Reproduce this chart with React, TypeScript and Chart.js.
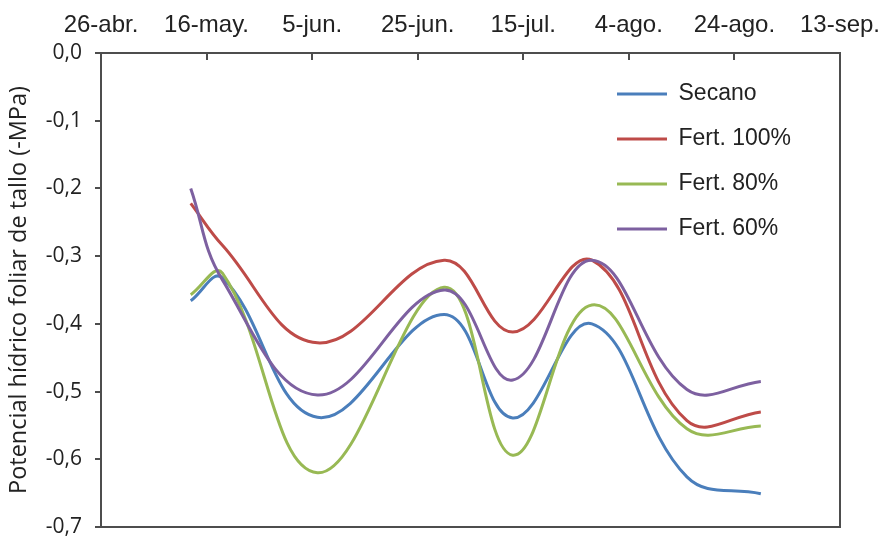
import React, { useEffect, useRef } from "react";
import { Chart, registerables } from "chart.js";

Chart.register(...registerables);

// X axis: days since 26-abr.
const xTickLabels = ["26-abr.", "16-may.", "5-jun.", "25-jun.", "15-jul.", "4-ago.", "24-ago.", "13-sep."];
const yTickLabels = ["0,0", "-0,1", "-0,2", "-0,3", "-0,4", "-0,5", "-0,6", "-0,7"];

const sampleDays = [17, 23, 41, 65, 78, 93, 111, 125];

const secano = [-0.366, -0.332, -0.538, -0.386, -0.539, -0.400, -0.626, -0.651];
const fert100 = [-0.222, -0.284, -0.428, -0.306, -0.412, -0.306, -0.543, -0.530];
const fert80 = [-0.357, -0.325, -0.620, -0.346, -0.594, -0.372, -0.555, -0.551];
const fert60 = [-0.200, -0.335, -0.505, -0.350, -0.483, -0.306, -0.497, -0.485];

const seriesNames = ["Secano", "Fert. 100%", "Fert. 80%", "Fert. 60%"];
const seriesColors = ["#4a7ebb", "#be4b48", "#98b954", "#7d60a0"];
const seriesValues = [secano, fert100, fert80, fert60];

const AXIS = "#4d4d4d";
const TEXT = "#222222";

const legendPlacer = {
  id: "legendPlacer",
  afterLayout(chart: any) {
    const lg = chart.legend;
    if (!lg) return;
    const ca = chart.chartArea;
    lg.left = ca.left + 494;
    lg.top = ca.top + 7.5;
  },
};

const noPad = (s: any) => {
  s.paddingLeft = 0;
  s.paddingRight = 0;
  s.paddingTop = 0;
  s.paddingBottom = 0;
};

export default function App() {
  const ref = useRef<HTMLCanvasElement | null>(null);
  useEffect(() => {
    if (!ref.current) return;
    const datasets = seriesValues.map((vals, i) => ({
      label: seriesNames[i],
      data: vals.map((v, j) => ({ x: sampleDays[j], y: v })),
      borderColor: seriesColors[i],
      backgroundColor: seriesColors[i],
      borderWidth: 3,
      pointRadius: 0,
      tension: 0.4,
      fill: false,
      order: 4 - i,
    }));
    const chart = new Chart(ref.current, {
      type: "line",
      data: { datasets },
      plugins: [legendPlacer],
      options: {
        animation: false,
        responsive: false,
        maintainAspectRatio: false,
        layout: { padding: { left: 0, top: 0, right: 43, bottom: 11 } },
        plugins: {
          tooltip: { enabled: false },
          legend: {
            position: "chartArea",
            align: "start",
            labels: {
              usePointStyle: true,
              pointStyle: "line",
              pointStyleWidth: 50,
              padding: 22,
              color: TEXT,
              font: { family: "Liberation Sans, Arial, sans-serif", size: 23 },
              sort: (a: any, b: any) => a.datasetIndex - b.datasetIndex,
            },
          },
        },
        scales: {
          x: {
            type: "linear",
            position: "top",
            min: 0,
            max: 140,
            ticks: {
              stepSize: 20,
              autoSkip: false,
              maxRotation: 0,
              padding: 20,
              color: TEXT,
              font: { family: "Liberation Sans, Arial, sans-serif", size: 24 },
              callback: (v: any) => xTickLabels[Math.round(Number(v) / 20)] ?? "",
            },
            grid: { drawOnChartArea: false, tickLength: -7, color: AXIS, lineWidth: 2 },
            border: { color: AXIS, width: 2 },
            afterFit: (s: any) => {
              s.height = 53;
              noPad(s);
            },
          },
          x2: {
            type: "linear",
            position: "bottom",
            ticks: { display: false },
            grid: { drawOnChartArea: false, drawTicks: false },
            border: { color: AXIS, width: 2 },
            afterFit: (s: any) => {
              s.height = 0;
              noPad(s);
            },
          },
          y: {
            type: "linear",
            position: "left",
            min: -0.7,
            max: 0,
            ticks: {
              stepSize: 0.1,
              padding: 13,
              color: TEXT,
              font: { family: "Open Sans, sans-serif", size: 21 },
              callback: (v: any) => yTickLabels[Math.round(-Number(v) * 10)] ?? "",
            },
            grid: { drawOnChartArea: false, tickLength: 6, color: AXIS, lineWidth: 2 },
            border: { color: AXIS, width: 2 },
            title: {
              display: true,
              text: "Potencial hídrico foliar de tallo (-MPa)",
              color: TEXT,
              font: { family: "Open Sans, sans-serif", size: 23.5 },
              padding: { top: 5, bottom: 4 },
            },
            afterFit: (s: any) => {
              s.width = 101;
              noPad(s);
            },
          },
          y2: {
            type: "linear",
            position: "right",
            ticks: { display: false },
            grid: { drawOnChartArea: false, drawTicks: false },
            border: { color: AXIS, width: 2 },
            afterFit: (s: any) => {
              s.width = 0;
              noPad(s);
            },
          },
        },
      },
    });
    return () => chart.destroy();
  }, []);
  return (
    <div style={{ position: "absolute", left: 0, top: 0, width: 883, height: 538, background: "#fff" }}>
      <canvas ref={ref} width={883} height={538} style={{ display: "block" }} />
    </div>
  );
}
